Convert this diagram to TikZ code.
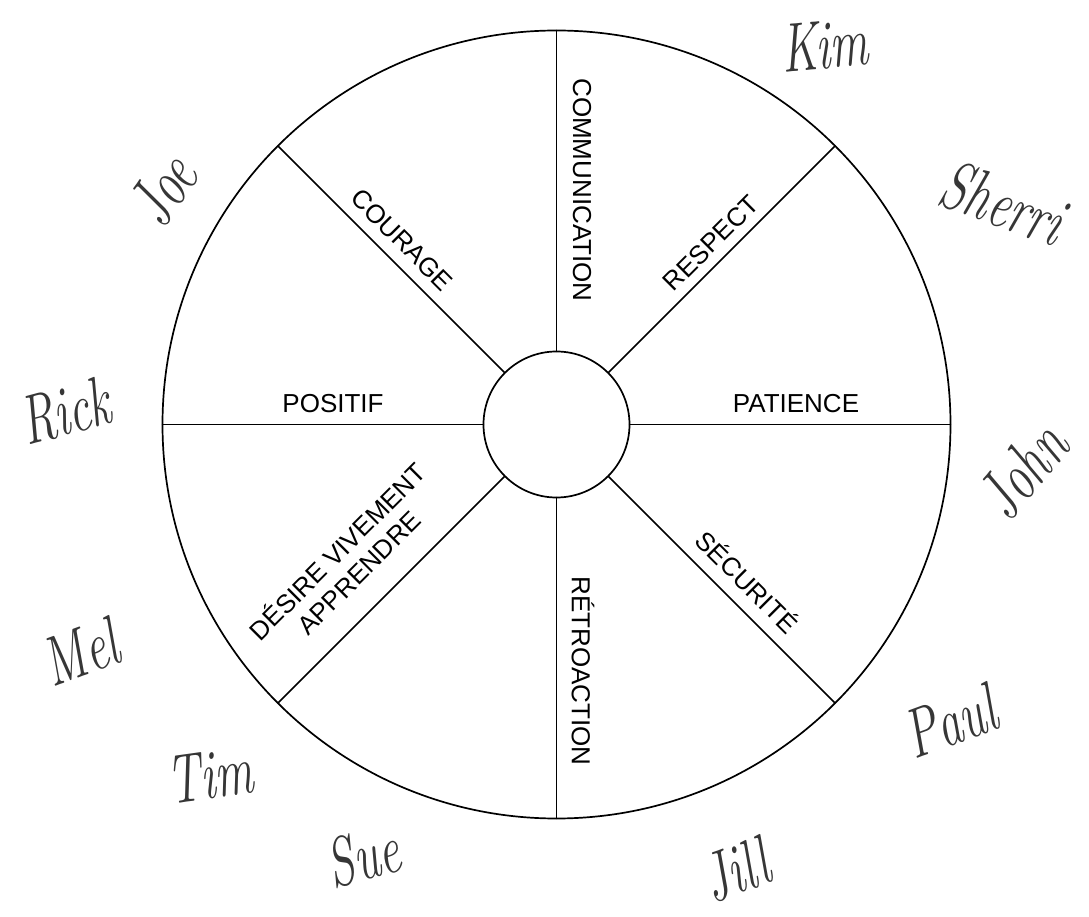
\documentclass[tikz,border=0pt]{standalone}
\usepackage{fontspec}
\setsansfont{Liberation Sans}
\definecolor{ink}{HTML}{000000}
\definecolor{pen}{HTML}{363636}
\newcommand{\sig}[1]{\scalebox{1}[1.45]{#1}}

\begin{document}
\begin{tikzpicture}[x=1pt,y=1pt,line join=round,line cap=round,
  rim/.style={ink,line width=1.7pt},
  spoke/.style={ink,line width=1.5pt},
  word/.style={font=\sffamily\fontsize{26}{30}\selectfont,text=ink,align=center,inner sep=0pt},
  who/.style={font=\fontsize{48}{50}\selectfont\itshape,text=pen,inner sep=0pt}]
  \useasboundingbox (-556.5,-492.5) rectangle (532.5,424.5);

  % ===== wheel =====
  \draw[rim] (0,0) circle (394);
  \draw[rim] (0,0) circle (73);
  \foreach \a in {0,45,...,315}{
    \draw[spoke] (\a:73) -- (\a:394);
  }

  % ===== values along the spokes =====
  \node[word,rotate=-90] (comm) at (25.5,234.5) {COMMUNICATION};
  \node[word,rotate=45] (resp) at (154.5,181.5) {RESPECT};
  \node[word] (pati) at (239.5,20.5) {PATIENCE};
  \node[word,rotate=-45] (secu) at (191.5,-156.5) {SÉCURITÉ};
  \node[word,rotate=-90] (retro) at (26.5,-246.5) {RÉTROACTION};
  \node[word,rotate=45] (desir) at (-209.5,-136.5) {DÉSIRE VIVEMENT\\APPRENDRE};
  \node[word] (posi) at (-223.5,20.5) {POSITIF};
  \node[word,rotate=-45] (cour) at (-154.5,184.5) {COURAGE};

  % ===== team members round the rim =====
  \node[who,rotate=5] (kim) at (268.5,379.5) {\sig{Kim}};
  \node[who,rotate=-20] (sherri) at (446.5,221.5) {\sig{Sherri}};
  \node[who,rotate=50] (john) at (466,-46) {\sig{John}};
  \node[who,rotate=20] (paul) at (393.5,-296.5) {\sig{Paul}};
  \node[who,rotate=20] (jill) at (179.5,-445.5) {\sig{Jill}};
  \node[who,rotate=15] (sue) at (-193.5,-431.5) {\sig{Sue}};
  \node[who,rotate=8] (tim) at (-346.5,-350.5) {\sig{Tim}};
  \node[who,rotate=20] (mel) at (-476.5,-227.5) {\sig{Mel}};
  \node[who,rotate=15] (rick) at (-491.5,13.5) {\sig{Rick}};
  \node[who,rotate=55] (joe) at (-393.5,234.5) {\sig{Joe}};
\end{tikzpicture}
\end{document}
